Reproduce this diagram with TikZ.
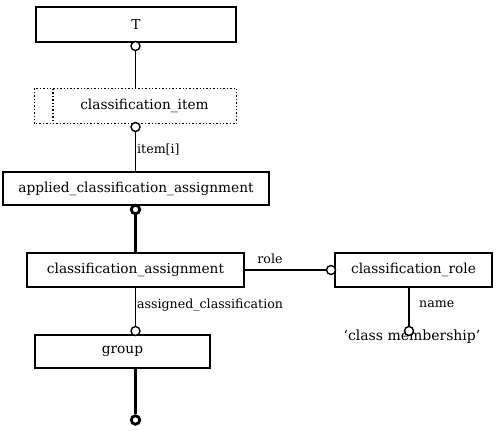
\documentclass[tikz,border=0pt]{standalone}
\usepackage{fontspec}
\setmainfont{DejaVu Serif}
\begin{document}
\begin{tikzpicture}[x=1pt,y=-1pt,
  ent/.style={draw,line width=1.4pt,inner sep=0pt,font=\fontsize{13.7}{16}\selectfont},
  lbl/.style={inner sep=0pt,font=\fontsize{12.6}{15}\selectfont},
  conn/.style={line width=1.6pt},
  thk/.style={line width=3.2pt},
  ring/.style={circle,draw,fill=white,line width=1.4pt,minimum size=9pt,inner sep=0pt},
  thkring/.style={circle,draw,fill=white,line width=2.8pt,minimum size=8.5pt,inner sep=0pt}]
\useasboundingbox (0,0) rectangle (500,431);
\node[ent,minimum width=200pt,minimum height=35pt] (T) at (136,24.5) {T};
\node[ent,draw=none,minimum width=201pt,minimum height=34pt] (ci) at (135.5,106) {\hspace*{18pt}classification\_item};
\draw[dotted,line width=1.4pt] (ci.south west) rectangle (ci.north east);
\coordinate (cit) at (53,89);
\coordinate (cib) at (53,123);
\draw[dotted,line width=1.4pt] (cit) -- (cib);
\node[ent,minimum width=266pt,minimum height=33pt] (aca) at (136,188.5) {applied\_classification\_assignment};
\node[ent,minimum width=217pt,minimum height=34pt] (ca) at (135.5,270) {classification\_assignment};
\node[ent,minimum width=157pt,minimum height=34pt] (cr) at (413.5,270) {classification\_role};
\node[ent,minimum width=175pt,minimum height=33pt] (grp) at (122.5,351.5) {group};
\node[inner sep=0pt,font=\fontsize{14}{16}\selectfont,anchor=base] (cm) at (412,340) {`class membership'};
% rings
\node[ring] (r1) at (135.5,46) {};
\node[ring] (r2) at (135.5,127) {};
\node[thkring] (r3) at (135.5,209.5) {};
\node[ring] (r4) at (331,270) {};
\node[ring] (r5) at (409,331) {};
\node[ring] (r6) at (135.5,331) {};
\node[thkring] (r7) at (135.5,420) {};
% connectors
\draw[conn] (r1) -- (r1 |- ci.north);
\draw[conn] (r2) -- (r2 |- aca.north);
\draw[thk] (r3) -- (r3 |- ca.north);
\draw[conn] (ca.east) -- (r4);
\draw[conn] (r5 |- cr.south) -- (r5);
\draw[conn] (r6 |- ca.south) -- (r6);
\draw[thk] (r7 |- grp.south) -- (r7);
% labels
\node[lbl,anchor=west] (l1) at (137,150) {item[i]};
\node[lbl] (l2) at (270,259) {role};
\node[lbl,anchor=west] (l3) at (137,305) {assigned\_classification};
\node[lbl,anchor=west] (l4) at (419,304) {name};
\end{tikzpicture}
\end{document}
